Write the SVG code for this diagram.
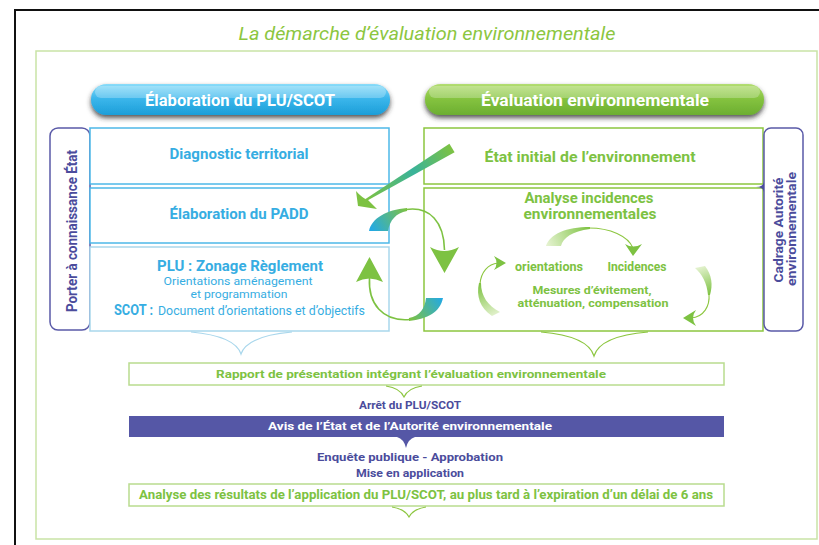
<svg xmlns="http://www.w3.org/2000/svg" width="819" height="545" viewBox="0 0 819 545">
<defs>
<style>
text{font-family:"Liberation Sans Narrow","Roboto","Liberation Sans",sans-serif;}
.b{font-weight:bold;}
.blue{fill:#36ade2;}
.green{fill:#7dc242;}
.purple{fill:#4b4c9c;}
.white{fill:#ffffff;}
.bbox{fill:#fff;stroke:#4db8e8;stroke-width:1.5;}
.bbox2{fill:#fff;stroke:#a9d7ec;stroke-width:1.5;}
.gbox{fill:#fff;stroke:#8cc63f;stroke-width:1.5;}
.lgbox{fill:#fff;stroke:#b9dc8e;stroke-width:1.5;}
.pbox{fill:#fff;stroke:#5a5aa8;stroke-width:1.5;}
.thin{fill:none;stroke:#7dc242;stroke-width:1.6;}
.thins{fill:none;stroke:#8cc63f;stroke-width:1.1;}
.head{fill:#7dc242;}
.ptri{fill:#4b4c9c;}
</style>
<filter id="sh" x="-10%" y="-30%" width="120%" height="180%">
<feDropShadow dx="0" dy="3" stdDeviation="2.5" flood-color="#2a2a2a" flood-opacity="0.8"/>
</filter>
<linearGradient id="gBlue" x1="0" y1="0" x2="0" y2="1">
<stop offset="0" stop-color="#8adcf9"/>
<stop offset="0.45" stop-color="#3cb7ec"/>
<stop offset="1" stop-color="#1c9ed8"/>
</linearGradient>
<linearGradient id="gGreen" x1="0" y1="0" x2="0" y2="1">
<stop offset="0" stop-color="#b3dd72"/>
<stop offset="0.45" stop-color="#86c440"/>
<stop offset="1" stop-color="#6cae31"/>
</linearGradient>
<linearGradient id="gDiag" gradientUnits="userSpaceOnUse" x1="366" y1="200" x2="452" y2="148">
<stop offset="0" stop-color="#7dc242"/>
<stop offset="0.55" stop-color="#39b39a"/>
<stop offset="1" stop-color="#7dc242"/>
</linearGradient>
<linearGradient id="gUp" gradientUnits="userSpaceOnUse" x1="372" y1="231" x2="407" y2="209">
<stop offset="0" stop-color="#23a9e4"/>
<stop offset="1" stop-color="#7dc242"/>
</linearGradient>
<linearGradient id="gLow" gradientUnits="userSpaceOnUse" x1="442" y1="298" x2="410" y2="320">
<stop offset="0" stop-color="#23a9e4"/>
<stop offset="1" stop-color="#7dc242"/>
</linearGradient>
<linearGradient id="gS1" gradientUnits="userSpaceOnUse" x1="548" y1="246" x2="590" y2="228">
<stop offset="0" stop-color="#e4f2cf"/>
<stop offset="1" stop-color="#7dc242"/>
</linearGradient>
<linearGradient id="gS2" gradientUnits="userSpaceOnUse" x1="495" y1="316" x2="480" y2="283">
<stop offset="0" stop-color="#e4f2cf"/>
<stop offset="1" stop-color="#7dc242"/>
</linearGradient>
<linearGradient id="gS3" gradientUnits="userSpaceOnUse" x1="699" y1="267" x2="710" y2="295">
<stop offset="0" stop-color="#e4f2cf"/>
<stop offset="1" stop-color="#7dc242"/>
</linearGradient>
</defs>

<rect x="0" y="0" width="819" height="545" fill="#ffffff"/>
<!-- outer frames -->
<path d="M15,546 L15,10 L820,10" fill="none" stroke="#111" stroke-width="2"/>
<rect x="36" y="51" width="781" height="488" fill="none" stroke="#c9e3a6" stroke-width="1.5"/>

<text x="427" y="40" text-anchor="middle" font-size="19" font-style="italic" fill="#8cc63f" textLength="377" lengthAdjust="spacingAndGlyphs">La démarche d’évaluation environnementale</text>

<g id="pill-elaboration">
<rect x="91" y="84" width="299" height="31" rx="15.5" fill="url(#gBlue)" filter="url(#sh)"/>
<rect x="95" y="86" width="291" height="12" rx="6" fill="#ffffff" opacity="0.25"/>
<text x="240" y="106" text-anchor="middle" font-size="16" class="b white" textLength="190" lengthAdjust="spacingAndGlyphs">Élaboration du PLU/SCOT</text>
</g>
<g id="pill-evaluation">
<rect x="425" y="84" width="339" height="31" rx="15.5" fill="url(#gGreen)" filter="url(#sh)"/>
<rect x="429" y="86" width="331" height="12" rx="6" fill="#ffffff" opacity="0.25"/>
<text x="595" y="106" text-anchor="middle" font-size="16" class="b white" textLength="228" lengthAdjust="spacingAndGlyphs">Évaluation environnementale</text>
</g>

<g id="porter">
<rect x="50" y="128" width="40" height="202" rx="8" class="pbox"/>
<text transform="translate(77,231) rotate(-90)" text-anchor="middle" font-size="14" class="b purple" textLength="162" lengthAdjust="spacingAndGlyphs">Porter à connaissance État</text>
<path d="M90,148 Q91,153 97,153 Q91,153 90,158 Z" class="ptri"/>
<path d="M90,208 Q91,213 97,213 Q91,213 90,218 Z" class="ptri"/>
<path d="M90,282 Q91,287 97,287 Q91,287 90,292 Z" class="ptri"/>
</g>

<g id="diagnostic">
<rect x="90" y="128" width="299" height="56" class="bbox"/>
<text x="239" y="159" text-anchor="middle" font-size="15" class="b blue" textLength="139" lengthAdjust="spacingAndGlyphs">Diagnostic territorial</text>
</g>
<g id="padd">
<rect x="90" y="188" width="299" height="55" class="bbox"/>
<text x="239" y="219" text-anchor="middle" font-size="15" class="b blue" textLength="139" lengthAdjust="spacingAndGlyphs">Élaboration du PADD</text>
</g>
<g id="zonage">
<rect x="90" y="247" width="299" height="84" class="bbox2"/>
<text x="240" y="271" text-anchor="middle" font-size="15" class="b blue" textLength="166" lengthAdjust="spacingAndGlyphs">PLU : Zonage Règlement</text>
<text x="238" y="285" text-anchor="middle" font-size="11.5" class="blue" textLength="149" lengthAdjust="spacingAndGlyphs">Orientations aménagement</text>
<text x="239" y="298" text-anchor="middle" font-size="11.5" class="blue" textLength="97" lengthAdjust="spacingAndGlyphs">et programmation</text>
<text x="114" y="315" font-size="14" class="b blue" textLength="39" lengthAdjust="spacingAndGlyphs">SCOT :</text>
<text x="158" y="315" font-size="12" class="blue" textLength="207" lengthAdjust="spacingAndGlyphs">Document d’orientations et d’objectifs</text>
</g>

<g id="etat-initial">
<rect x="424" y="128" width="339" height="56" class="gbox"/>
<text x="590" y="162" text-anchor="middle" font-size="15" class="b green" textLength="211" lengthAdjust="spacingAndGlyphs">État initial de l’environnement</text>
</g>
<g id="analyse-incidences">
<rect x="424" y="188" width="339" height="143" class="gbox"/>
<text x="589" y="203" text-anchor="middle" font-size="14.5" class="b green" textLength="129" lengthAdjust="spacingAndGlyphs">Analyse incidences</text>
<text x="590" y="219" text-anchor="middle" font-size="14.5" class="b green" textLength="133" lengthAdjust="spacingAndGlyphs">environnementales</text>
<text x="549" y="271" text-anchor="middle" font-size="12.5" class="b green" textLength="68" lengthAdjust="spacingAndGlyphs">orientations</text>
<text x="637" y="271" text-anchor="middle" font-size="12.5" class="b green" textLength="59" lengthAdjust="spacingAndGlyphs">Incidences</text>
<text x="592" y="294" text-anchor="middle" font-size="11.5" class="b green" textLength="119" lengthAdjust="spacingAndGlyphs">Mesures d’évitement,</text>
<text x="593" y="307" text-anchor="middle" font-size="11.5" class="b green" textLength="151" lengthAdjust="spacingAndGlyphs">atténuation, compensation</text>
</g>

<g id="cadrage">
<rect x="764" y="128" width="39" height="203" rx="7" class="pbox"/>
<text transform="translate(783,230) rotate(-90)" text-anchor="middle" font-size="13" class="b purple" textLength="105" lengthAdjust="spacingAndGlyphs">Cadrage Autorité</text>
<text transform="translate(796,229) rotate(-90)" text-anchor="middle" font-size="13" class="b purple" textLength="114" lengthAdjust="spacingAndGlyphs">environnementale</text>
<path d="M764,182 Q763,187 756,187 Q763,187 764,192 Z" class="ptri"/>
</g>

<g id="rapport">
<rect x="129" y="363" width="595" height="22" class="lgbox"/>
<text x="411" y="378" text-anchor="middle" font-size="11.5" class="b green" textLength="390" lengthAdjust="spacingAndGlyphs">Rapport de présentation intégrant l’évaluation environnementale</text>
</g>
<g id="arret">
<text x="410" y="409" text-anchor="middle" font-size="11" class="b purple" textLength="102" lengthAdjust="spacingAndGlyphs">Arrêt du PLU/SCOT</text>
</g>
<g id="avis">
<rect x="129" y="416" width="595" height="21" fill="#5557a6"/>
<text x="410" y="430" text-anchor="middle" font-size="11.5" class="b white" textLength="284" lengthAdjust="spacingAndGlyphs">Avis de l’État et de l’Autorité environnementale</text>
<path d="M397,437 Q404,439 406,448 Q408,439 415,437 Z" fill="#5557a6"/>
</g>
<g id="enquete">
<text x="410" y="461" text-anchor="middle" font-size="11.5" class="b purple" textLength="186" lengthAdjust="spacingAndGlyphs">Enquête publique  -  Approbation</text>
<text x="410" y="477" text-anchor="middle" font-size="11.5" class="b purple" textLength="108" lengthAdjust="spacingAndGlyphs">Mise en application</text>
</g>
<g id="resultats">
<rect x="129" y="484" width="595" height="22" class="lgbox"/>
<text x="426" y="499" text-anchor="middle" font-size="12" class="b green" textLength="574" lengthAdjust="spacingAndGlyphs">Analyse des résultats de l’application du PLU/SCOT, au plus tard à l’expiration d’un délai de 6 ans</text>
</g>

<g id="connectors">
<!-- braces -->
<path d="M191,332 Q235,336 241,354 Q247,336 292,332" fill="none" stroke="#a9d7ec" stroke-width="1.2"/>
<path d="M541,332 Q588,336 594,356 Q600,336 648,332" fill="none" stroke="#8cc63f" stroke-width="1.2"/>
<path d="M386,386 Q400,388 404,397 Q408,388 422,386" class="thins"/>
<path d="M392,507 Q405,509 409,517 Q413,509 426,507" class="thins"/>

<!-- diagonal arrow -->
<path d="M365.5,199.1 L449.4,143.7 L454.6,152.3 L366.5,200.9 Z" fill="url(#gDiag)"/>
<path d="M358,206 L356,191 Q362,198 368,200 Q372,204 377,209 Z" class="head"/>

<!-- upper loop arrow -->
<path d="M369,231 C372,218 386,210 407,208 L407,211 C396,213 390,220 388,231 Z" fill="url(#gUp)"/>
<path d="M406,209.5 C430,206 444,222 444.5,250" class="thin"/>
<path d="M430,247 Q444,255 459,247 L444.5,273 Z" class="head"/>

<!-- lower loop arrow -->
<path d="M443,298 C440,312 428,319 409,321 L409,318 C420,316 425,308 426,298 Z" fill="url(#gLow)"/>
<path d="M410,319.5 C382,322 368,303 369.5,278" class="thin"/>
<path d="M356,282 Q369,275 383,282 L369.5,257 Z" class="head"/>

<!-- small arrows in analyse box -->
<path d="M546,246 C550,234 566,227 590,227 L590,229 C572,231 563,238 561,246 Z" fill="url(#gS1)"/>
<path d="M589,228 C610,228 628,236 633,248" class="thins"/>
<path d="M625,244 Q633,249 642,244 L633,256 Z" class="head"/>

<path d="M492,316 C480,308 476,296 479,283 L481,283 C481,296 488,306 500,312 Z" fill="url(#gS2)"/>
<path d="M480,284 C481,272 488,264 498,263" class="thins"/>
<path d="M494,256 Q499,263 494,270 L506,263 Z" class="head"/>

<path d="M695,268 L705,266 C712,275 713,285 710,295 L708,295 C707,283 702,274 695,268 Z" fill="url(#gS3)"/>
<path d="M709,294 C710,306 704,317 691,318" class="thins"/>
<path d="M696,310 Q690,318 696,326 L683,318 Z" class="head"/>
</g>
</svg>
